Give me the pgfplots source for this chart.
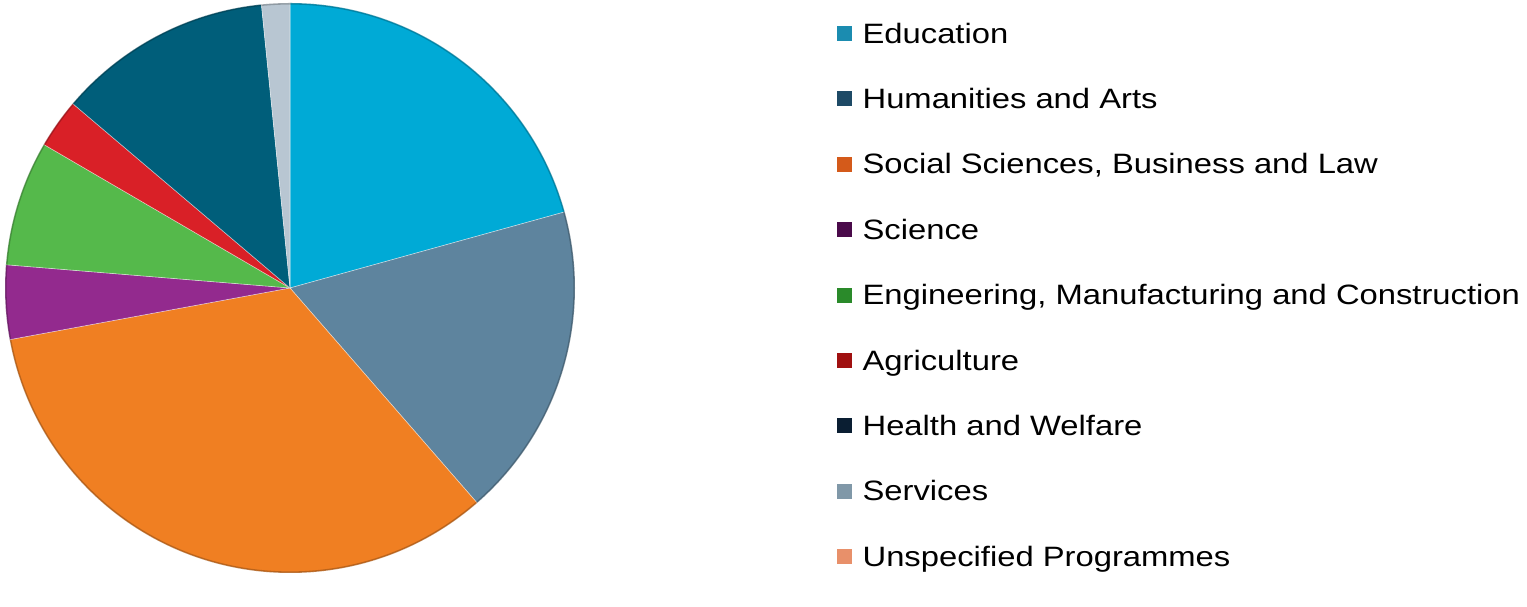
\documentclass[border=0pt]{standalone}
\usepackage{pgfplots}
\usepackage{pgfplotstable}
\pgfplotsset{compat=1.18}
\usepackage{fontspec}
\setmainfont{Liberation Sans}
\newfontfamily\legfont[FakeStretch=1.17]{Liberation Sans}

\definecolor{cEdu}{HTML}{00AAD6}
\definecolor{cHum}{HTML}{5E849E}
\definecolor{cSoc}{HTML}{F07F22}
\definecolor{cSci}{HTML}{932A8E}
\definecolor{cEng}{HTML}{55B94B}
\definecolor{cAgr}{HTML}{D92027}
\definecolor{cHea}{HTML}{005E7A}
\definecolor{cSer}{HTML}{B8C6D2}
\definecolor{cUns}{HTML}{F2A07A}
% legend marker colours (darker, as in the reference)
\definecolor{lEdu}{HTML}{1B8CB0}
\definecolor{lHum}{HTML}{1E4A66}
\definecolor{lSoc}{HTML}{D45A1A}
\definecolor{lSci}{HTML}{4A0A4A}
\definecolor{lEng}{HTML}{2A8A2A}
\definecolor{lAgr}{HTML}{A01010}
\definecolor{lHea}{HTML}{0A1E32}
\definecolor{lSer}{HTML}{8098A8}
\definecolor{lUns}{HTML}{E8906A}

% share of graduates by field (%), clockwise from 12 o'clock
\pgfplotstableread{
share col
20.7 cEdu
17.9 cHum
33.5 cSoc
4.2  cSci
7.1  cEng
2.8  cAgr
12.2 cHea
1.6  cSer
0.0  cUns
}\piedata

\begin{document}
\begin{tikzpicture}
\begin{axis}[
  scale only axis, width=1527pt, height=574pt,
  xmin=0, xmax=1527, ymin=0, ymax=574,
  hide axis, clip=false,
  legend cell align=left,
  legend image code/.code={\fill[#1] (0pt,-7pt) rectangle (14pt,7pt);},
  legend style={draw=none, fill=none, inner sep=0pt,
    at={(axis cs:837,551)}, anchor=north west,
    font=\legfont\fontsize{28}{30}\selectfont,
    row sep=45.4pt,
    nodes={inner sep=0pt, text height=20pt, text depth=0pt},
    /tikz/every even column/.append style={column sep=0pt},
    /tikz/every odd column/.append style={column sep=11pt}},
]
\addplot[draw=none, forget plot] coordinates {(0,0) (1527,574)};

\pgfmathsetmacro{\startang}{90}
\pgfplotsforeachungrouped \i in {0,...,7} {
  \pgfplotstablegetelem{\i}{share}\of\piedata
  \let\val\pgfplotsretval
  \pgfplotstablegetelem{\i}{col}\of\piedata
  \let\col\pgfplotsretval
  \pgfmathsetmacro{\endang}{\startang - 3.6*\val}
  \edef\temp{\noexpand\fill[\col, draw=white, draw opacity=0.5, line width=0.6pt]
    (axis cs:290,286) -- ++(\startang:285pt)
    arc[start angle=\startang, end angle=\endang, radius=285pt] -- cycle;}
  \temp
  \global\let\startang\endang
}
% subtle darker rim, as in the reference's bevelled pie
\draw[black, draw opacity=0.22, line width=1.6pt] (axis cs:290,286) circle[radius=284.2pt];

\addlegendimage{lEdu}\addlegendentry{Education}
\addlegendimage{lHum}\addlegendentry{Humanities and Arts}
\addlegendimage{lSoc}\addlegendentry{Social Sciences, Business and Law}
\addlegendimage{lSci}\addlegendentry{Science}
\addlegendimage{lEng}\addlegendentry{Engineering, Manufacturing and Construction}
\addlegendimage{lAgr}\addlegendentry{Agriculture}
\addlegendimage{lHea}\addlegendentry{Health and Welfare}
\addlegendimage{lSer}\addlegendentry{Services}
\addlegendimage{lUns}\addlegendentry{Unspecified Programmes}
\end{axis}
\end{tikzpicture}
\end{document}
